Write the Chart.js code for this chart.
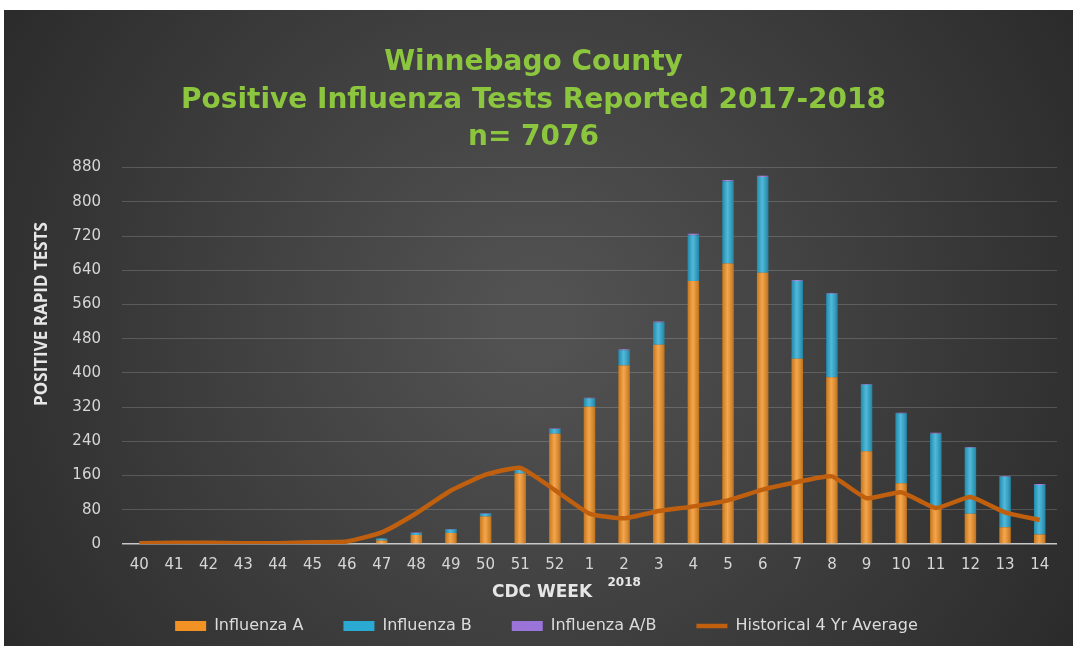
<!DOCTYPE html>
<html>
<head>
<meta charset="utf-8">
<script src="https://cdn.jsdelivr.net/npm/chart.js@4.4.1/dist/chart.umd.min.js"></script>
<style>
html, body { margin: 0; padding: 0; background: #fff; }
#wrap { width: 1073px; height: 646px; }
</style>
</head>
<body>
<div id="wrap"><canvas id="fluChart"></canvas></div>
<script>
const weeks = ['40','41','42','43','44','45','46','47','48','49','50','51','52',
  '1','2','3','4','5','6','7','8','9','10','11','12','13','14'];
const fluA = [0,0,0,0,0,0,1,8,21,26,64,165,258,321,417,466,615,656,634,433,390,217,142,86,71,39,22];
const fluB = [0,0,0,0,0,0,1,5,5,8,7,10,11,19,36,52,107,192,224,182,195,155,163,172,154,118,116];
const fluAB = [0,0,0,0,0,0,0,0,1,1,1,1,1,2,2,2,3,3,3,2,2,2,2,2,2,2,2];
const avg4yr = [2,3,3,2,2,4,6,27,72,125,162,178,126,71,60,77,88,102,127,145,158,107,121,84,110,74,56];
const titleLines = ['Winnebago County', 'Positive Influenza Tests Reported 2017-2018', 'n= 7076'];

const bgPlugin = {
  id: 'bg',
  beforeDraw(chart) {
    const c = chart.ctx, w = chart.width, h = chart.height;
    c.save();
    c.fillStyle = '#fff';
    c.fillRect(0, 0, w, h);
    const g = c.createRadialGradient(w * 0.5, h * 0.5, 30, w * 0.5, h * 0.5, w * 0.62);
    g.addColorStop(0, '#525252');
    g.addColorStop(1, '#282828');
    c.fillStyle = g;
    c.fillRect(4, 10, w - 4, h - 10);
    c.restore();
  }
};

// soft cylinder shine on each bar
const shinePlugin = {
  id: 'shine',
  afterDatasetDraw(chart, args) {
    if (args.meta.type !== 'bar') return;
    const c = chart.ctx;
    c.save();
    args.meta.data.forEach(bar => {
      const p = bar.getProps(['x', 'y', 'base', 'width'], true);
      const h = p.base - p.y;
      if (h < 0.5) return;
      const l = p.x - p.width / 2;
      const g = c.createLinearGradient(l, 0, l + p.width, 0);
      g.addColorStop(0, 'rgba(0,0,0,0.18)');
      g.addColorStop(0.45, 'rgba(255,255,255,0.18)');
      g.addColorStop(1, 'rgba(0,0,0,0.22)');
      c.fillStyle = g;
      c.fillRect(l, p.y, p.width, h);
    });
    c.restore();
  }
};

// legend sits a little right of centre in the original
const legendShift = {
  id: 'legendShift',
  afterLayout(chart) {
    chart.legend.left += 13;
    chart.legend.right += 13;
  }
};

const labelPlugin = {
  id: 'labels',
  afterDraw(chart) {
    const c = chart.ctx;
    const xs = chart.scales.x;
    c.save();
    c.fillStyle = '#e6e6e6';
    c.textAlign = 'center';
    c.textBaseline = 'middle';
    // y axis title
    c.save();
    c.translate(42, 314);
    c.rotate(-Math.PI / 2);
    c.font = 'bold 17px "Liberation Sans Narrow", "Open Sans", sans-serif';
    c.fillText('POSITIVE RAPID TESTS', 0, 0);
    c.restore();
    // x axis title
    c.font = 'bold 17px "DejaVu Sans", sans-serif';
    c.fillText('CDC WEEK', 542, 593);
    // year marker under week 2
    c.font = 'bold 12px "DejaVu Sans", sans-serif';
    c.fillText('2018', xs.getPixelForValue(weeks.indexOf('2')), 583);
    c.restore();
  }
};

const barCommon = { stack: 'flu', order: 1, barPercentage: 0.33, categoryPercentage: 1, borderWidth: 0, pointStyle: 'rect' };

new Chart(document.getElementById('fluChart'), {
  data: {
    labels: weeks,
    datasets: [
      Object.assign({ type: 'bar', label: 'Influenza A', data: fluA, backgroundColor: '#f39224' }, barCommon),
      Object.assign({ type: 'bar', label: 'Influenza B', data: fluB, backgroundColor: '#2aa9d2' }, barCommon),
      Object.assign({ type: 'bar', label: 'Influenza A/B', data: fluAB, backgroundColor: '#9a74d8' }, barCommon),
      {
        type: 'line', label: 'Historical 4 Yr Average', data: avg4yr, stack: 'avg', order: 0,
        borderColor: '#c0600f', backgroundColor: '#c0600f', borderWidth: 4.5,
        pointRadius: 0, pointStyle: 'line', tension: 0.15
      }
    ]
  },
  options: {
    responsive: true,
    maintainAspectRatio: false,
    animation: false,
    layout: { padding: { left: 10, right: 16, top: 10, bottom: 2 } },
    scales: {
      x: {
        stacked: true,
        grid: { display: false, drawTicks: false },
        border: { display: false },
        ticks: { color: '#d6d6d6', font: { size: 15, family: 'DejaVu Sans' }, padding: 12, maxRotation: 0, autoSkip: false },
        afterFit: (scale) => { scale.height = 34; }
      },
      y: {
        stacked: true,
        min: 0,
        max: 880,
        grid: {
          drawTicks: false,
          lineWidth: (ctx) => ctx.tick && ctx.tick.value === 0 ? 1.5 : 1,
          color: (ctx) => {
            if (!ctx.tick) return 'transparent';
            if (ctx.tick.value === 0) return '#c8c8c8';
            return ctx.tick.value % 80 === 0 ? 'rgba(255,255,255,0.17)' : 'rgba(255,255,255,0.07)';
          }
        },
        border: { display: false },
        ticks: {
          stepSize: 40,
          padding: 21,
          color: '#d6d6d6',
          font: { size: 15, family: 'DejaVu Sans' },
          callback: (v) => v % 80 === 0 ? v : ''
        },
        afterFit: (scale) => { scale.width = 112; }
      }
    },
    plugins: {
      title: {
        display: true,
        text: titleLines,
        color: '#8cc63f',
        font: { size: 28, weight: 'bold', family: 'DejaVu Sans', lineHeight: 1.34 },
        padding: { top: 34, bottom: 11 }
      },
      legend: {
        position: 'bottom',
        labels: {
          color: '#dcdcdc',
          font: { size: 16, family: 'DejaVu Sans' },
          usePointStyle: true,
          pointStyleWidth: 31,
          boxHeight: 10,
          padding: 40,
          sort: (a, b) => a.datasetIndex - b.datasetIndex
        }
      },
      tooltip: { enabled: false }
    }
  },
  plugins: [bgPlugin, shinePlugin, legendShift, labelPlugin]
});
</script>
</body>
</html>
